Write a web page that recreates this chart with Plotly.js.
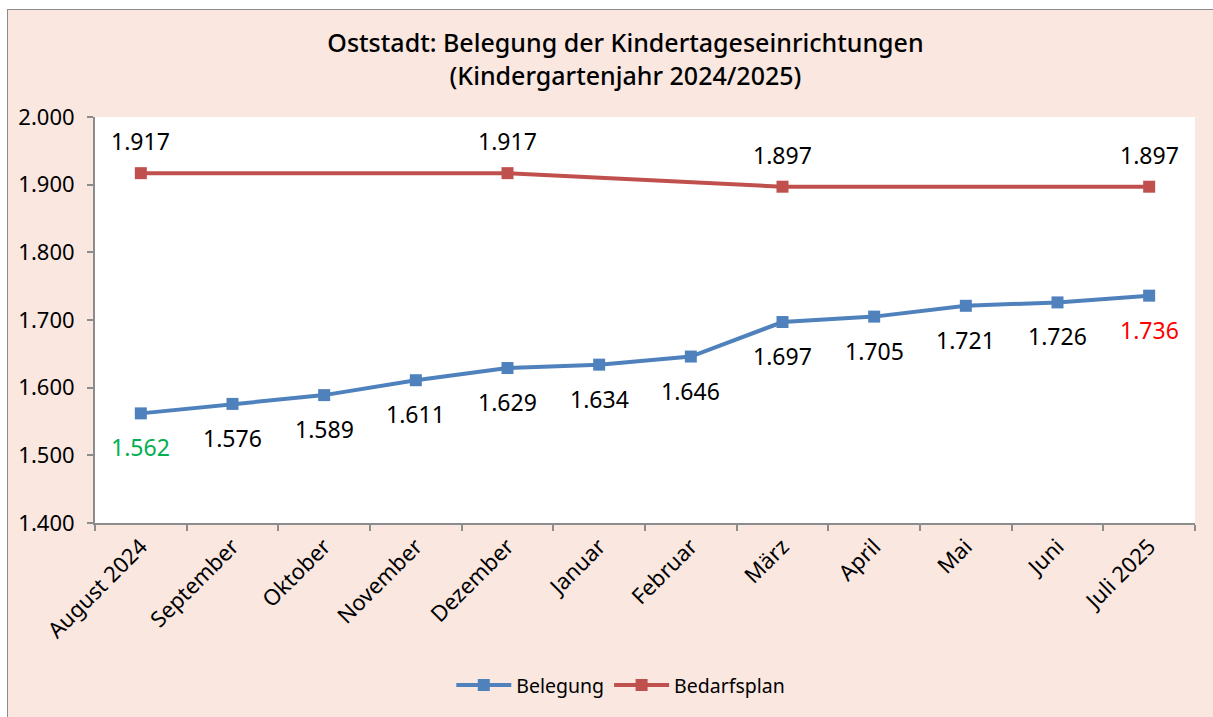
<!DOCTYPE html>
<html>
<head>
<meta charset="utf-8">
<script src="https://cdn.plot.ly/plotly-3.0.1.min.js"></script>
<style>
html,body{margin:0;padding:0;background:#ffffff;overflow:hidden;width:1213px;height:717px;}
#frame{position:absolute;left:7px;top:9px;width:1230px;height:730px;border:1px solid #8c8c8c;box-sizing:border-box;background:#F9E7E0;}
#chart{position:absolute;left:0;top:0;width:1206px;height:708px;}
</style>
</head>
<body>
<div id="frame"><div id="chart"></div></div>
<script>
const categories = ["August 2024","September","Oktober","November","Dezember","Januar","Februar","März","April","Mai","Juni","Juli 2025"];
const belegung = [1562,1576,1589,1611,1629,1634,1646,1697,1705,1721,1726,1736];
const bedarfsplan = [1917,null,null,null,1917,null,null,1897,null,null,null,1897];
const yTickVals = [1400,1500,1600,1700,1800,1900,2000];
const yTickText = ["1.400","1.500","1.600","1.700","1.800","1.900","2.000"];

function fmt(v){ return (v/1000).toFixed(3); }

const blue = "#4F81BD", red = "#C0504D";
const font = "Noto Sans, Open Sans, sans-serif";

const traces = [
  {x: categories, y: belegung, name: "Belegung", type: "scatter", mode: "lines+markers",
   line: {color: blue, width: 4}, marker: {symbol: "square", size: 12, color: blue}},
  {x: categories, y: bedarfsplan, name: "Bedarfsplan", type: "scatter", mode: "lines+markers",
   connectgaps: true, line: {color: red, width: 4}, marker: {symbol: "square", size: 12, color: red}}
];

const annotations = [];
belegung.forEach((v,i)=>{
  let c = "#000000";
  if (i === 0) c = "#00B050";
  if (i === belegung.length-1) c = "#FF0000";
  annotations.push({x: categories[i], y: v, xref:"x", yref:"y", text: fmt(v), showarrow:false,
    yshift: -34, font:{family: font, size: 23, color: c}});
});
bedarfsplan.forEach((v,i)=>{
  if (v === null) return;
  annotations.push({x: categories[i], y: v, xref:"x", yref:"y", text: fmt(v), showarrow:false,
    yshift: 32, font:{family: font, size: 23, color: "#000000"}});
});

const layout = {
  width: 1206, height: 708,
  paper_bgcolor: "#F9E7E0", plot_bgcolor: "#FFFFFF",
  margin: {l: 87, r: 19, t: 107, b: 195},
  title: {text: "Oststadt: Belegung der Kindertageseinrichtungen<br>(Kindergartenjahr 2024/2025)",
    font: {family: font, size: 25, color: "#000000", weight: 500}, x: 0.512, xanchor: "center", y: 0.94, yanchor: "top"},
  xaxis: {type: "category", categoryorder: "array", categoryarray: categories,
    showline: true, linecolor: "#8c8c8c", linewidth: 2, ticks: "outside", tickson: "boundaries",
    ticklen: 6, tickcolor: "#8c8c8c", tickwidth: 2, tickangle: -45, showgrid: false,
    tickfont: {family: font, size: 22, color: "#000000"}, range: [-0.5, 11.5]},
  yaxis: {range: [1400, 2000], tickvals: yTickVals, ticktext: yTickText, showgrid: false,
    showline: true, linecolor: "#8c8c8c", linewidth: 2, ticks: "outside", ticklen: 6,
    tickcolor: "#8c8c8c", tickwidth: 2, zeroline: false, ticklabelstandoff: 8,
    tickfont: {family: font, size: 22, color: "#000000"}},
  showlegend: true,
  legend: {orientation: "h", x: 0.478, xanchor: "center", y: -0.40, yanchor: "middle",
    itemwidth: 55, font: {family: font, size: 19.5, color: "#000000"}, bgcolor: "rgba(0,0,0,0)"},
  annotations: annotations
};

Plotly.newPlot("chart", traces, layout, {displayModeBar: false, staticPlot: true});
</script>
</body>
</html>
